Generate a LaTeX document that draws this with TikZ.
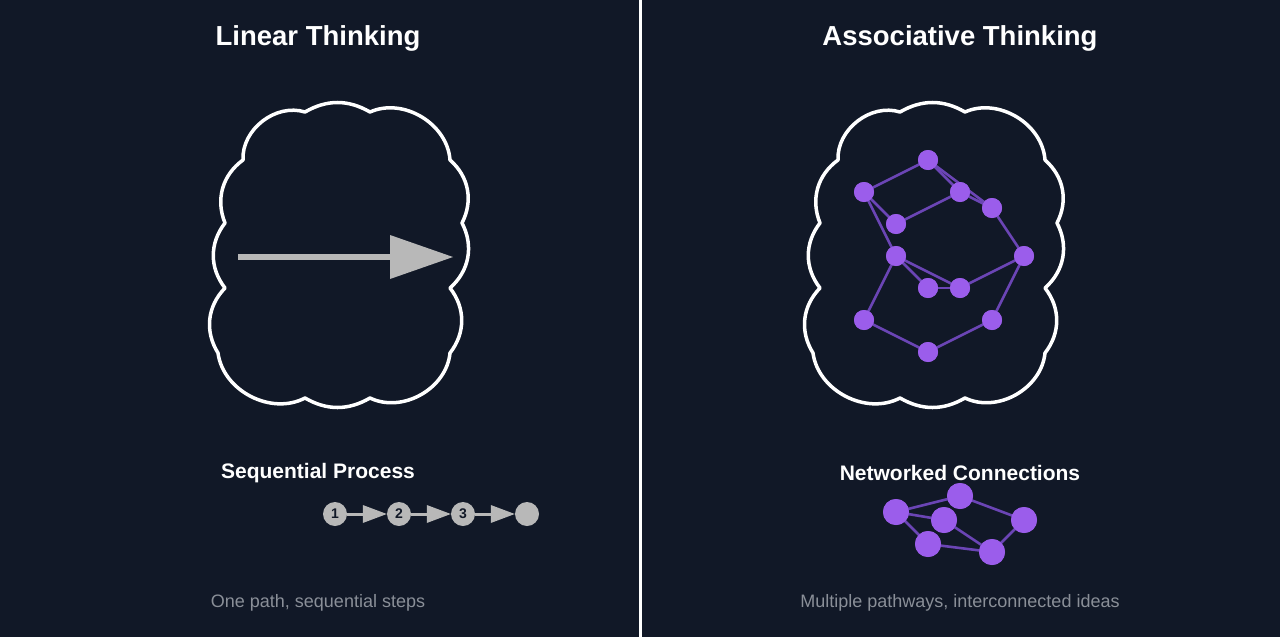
\documentclass[tikz,border=0pt]{standalone}
\usepackage{fontspec}
\setmainfont{Liberation Sans}
\begin{document}
\begin{tikzpicture}[x=1pt,y=-1pt,
  title/.style={text=white,font=\bfseries\fontsize{27.5}{30}\selectfont},
  sub/.style={text=white,font=\bfseries\fontsize{21}{24}\selectfont},
  captxt/.style={text=capgray,font=\fontsize{18}{20}\selectfont},
  cloud/.style={draw=white,line width=3.5pt,line join=round},
  pn/.style={circle,fill=nodep,inner sep=0pt,minimum size=20pt},
  pnb/.style={circle,fill=nodep,inner sep=0pt,minimum size=26pt},
  pe/.style={draw=edgep,line width=2.6pt},
  sn/.style={circle,fill=stepg,inner sep=0pt,minimum size=24pt,text=bgc,font=\bfseries\fontsize{14}{14}\selectfont},
  sa/.style={draw=stepg,line width=3pt}]
\definecolor{bgc}{HTML}{111827}
\definecolor{capgray}{HTML}{8A8F98}
\definecolor{nodep}{HTML}{9B5DEB}
\definecolor{edgep}{HTML}{6B45B5}
\definecolor{stepg}{HTML}{B8B8B8}
\fill[bgc] (0,0) rectangle (1280,637);
\useasboundingbox (0,0) rectangle (1280,637);
\draw[white,line width=3pt] (640,0) -- (640,637);
\node[title] (t1) at (318,38) {Linear Thinking};
\node[title] (t2) at (960,38) {Associative Thinking};
% clouds
\foreach \dx in {0,595}{
\begin{scope}[xshift=\dx pt]
\draw[cloud] (243,160) to[bend left=55] (305,112) to[bend left=30] (370,112)
  to[bend left=55] (450,160) to[bend left=38] (462,223) to[bend left=38] (450,288)
  to[bend left=38] (450,353) to[bend left=55] (370,398) to[bend left=30] (305,398)
  to[bend left=55] (218,353) to[bend left=38] (225,288) to[bend left=38] (225,223)
  to[bend left=38] (243,160) -- cycle;
\end{scope}}
% big arrow
\coordinate (as) at (238,257);
\coordinate (ae) at (453,257);
\draw[stepg,line width=6pt] (as) -- (392,257);
\fill[stepg] (390,235) -- (ae) -- (390,279) -- cycle;
% network
\node[pn] (A) at (864,192) {}; \node[pn] (B) at (928,160) {};
\node[pn] (C) at (960,192) {}; \node[pn] (D) at (992,208) {};
\node[pn] (E) at (896,224) {}; \node[pn] (F) at (896,256) {};
\node[pn] (G) at (1024,256) {}; \node[pn] (H) at (928,288) {};
\node[pn] (I) at (960,288) {}; \node[pn] (J) at (864,320) {};
\node[pn] (K) at (992,320) {}; \node[pn] (L) at (928,352) {};
\foreach \a/\b in {A/B,B/C,B/D,C/D,A/E,E/C,A/F,F/H,F/I,H/I,I/G,D/G,G/K,F/J,J/L,L/K}
  \path[pe] (\a.center) -- (\b.center);
\foreach \p in {{864,192},{928,160},{960,192},{992,208},{896,224},{896,256},{1024,256},{928,288},{960,288},{864,320},{992,320},{928,352}}
  \fill[nodep] (\p) circle (10pt);
% subtitles
\node[sub] (s1) at (318,473) {Sequential Process};
\node[sub] (s2) at (960,473) {Networked Connections};
% steps
\node[sn] (n1) at (335,514) {1};
\node[sn] (n2) at (399,514) {2};
\node[sn] (n3) at (463,514) {3};
\node[sn] (n4) at (527,514) {};
\foreach \a/\b in {n1/n2,n2/n3,n3/n4}{
  \draw[sa] (\a.east) -- ([xshift=-22pt]\b.west);
  \fill[stepg] ([xshift=-24pt,yshift=-9pt]\b.west) -- (\b.west) -- ([xshift=-24pt,yshift=9pt]\b.west) -- cycle;}
% small network
\node[pnb] (a) at (896,512) {}; \node[pnb] (b) at (960,496) {};
\node[pnb] (c) at (944,520) {}; \node[pnb] (d) at (1024,520) {};
\node[pnb] (e) at (928,544) {}; \node[pnb] (f) at (992,552) {};
\foreach \a/\b in {a/b,a/c,a/e,b/d,c/f,e/f,d/f}
  \path[pe] (\a.center) -- (\b.center);
\foreach \p in {{896,512},{960,496},{944,520},{1024,520},{928,544},{992,552}}
  \fill[nodep] (\p) circle (13pt);
% captions
\node[captxt] (c1) at (318,603) {One path, sequential steps};
\node[captxt] (c2) at (960,603) {Multiple pathways, interconnected ideas};
\end{tikzpicture}
\end{document}
